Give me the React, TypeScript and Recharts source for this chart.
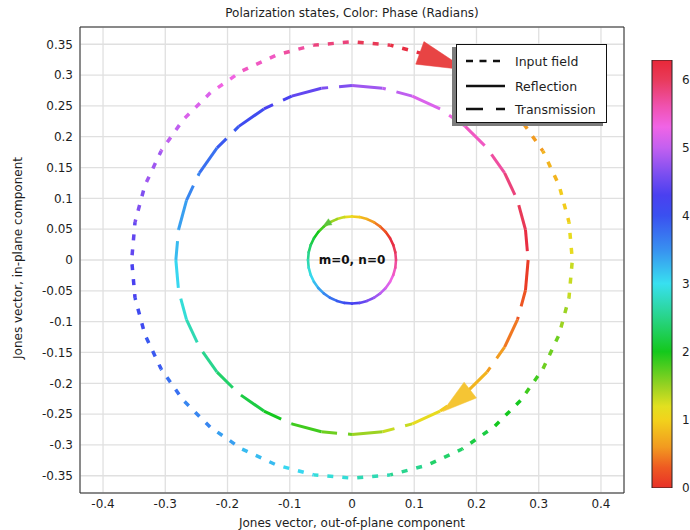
import React from 'react';
import {
  ComposedChart,
  Line,
  XAxis,
  YAxis,
  CartesianGrid,
  Scatter,
  ReferenceDot,
  BarChart,
  Bar,
} from 'recharts';

// ---------------- data ----------------
// phase (radians) at each sampled point along every curve
const phases = [
  0, 0.175, 0.349, 0.524, 0.698, 0.873, 1.047, 1.222, 1.396, 1.571, 1.745, 1.92, 2.094,
  2.269, 2.443, 2.618, 2.793, 2.967, 3.142, 3.316, 3.491, 3.665, 3.84, 4.014, 4.189, 4.363,
  4.538, 4.712, 4.887, 5.061, 5.236, 5.411, 5.585, 5.76, 5.934, 6.109, 6.283,
];

// Input field (dotted)
const inputX = [
  0.1211, 0.177, 0.2276, 0.2712, 0.3066, 0.3327, 0.3486, 0.354, 0.3486, 0.3327, 0.3066,
  0.2712, 0.2276, 0.177, 0.1211, 0.0615, 0, -0.0615, -0.1211, -0.177, -0.2276, -0.2712,
  -0.3066, -0.3327, -0.3486, -0.354, -0.3486, -0.3327, -0.3066, -0.2712, -0.2276, -0.177,
  -0.1211, -0.0615, 0, 0.0615, 0.1211,
];
const inputY = [
  0.3327, 0.3066, 0.2712, 0.2276, 0.177, 0.1211, 0.0615, 0, -0.0615, -0.1211, -0.177,
  -0.2276, -0.2712, -0.3066, -0.3327, -0.3486, -0.354, -0.3486, -0.3327, -0.3066, -0.2712,
  -0.2276, -0.177, -0.1211, -0.0615, 0, 0.0615, 0.1211, 0.177, 0.2276, 0.2712, 0.3066,
  0.3327, 0.3486, 0.354, 0.3486, 0.3327,
];

// Transmission (dashed)
const transX = [
  0.283, 0.2787, 0.2659, 0.2451, 0.2168, 0.1819, 0.1415, 0.0968, 0.0491, 0, -0.0491,
  -0.0968, -0.1415, -0.1819, -0.2168, -0.2451, -0.2659, -0.2787, -0.283, -0.2787, -0.2659,
  -0.2451, -0.2168, -0.1819, -0.1415, -0.0968, -0.0491, 0, 0.0491, 0.0968, 0.1415, 0.1819,
  0.2168, 0.2451, 0.2659, 0.2787, 0.283,
];
const transY = [
  0, -0.0491, -0.0968, -0.1415, -0.1819, -0.2168, -0.2451, -0.2659, -0.2787, -0.283,
  -0.2787, -0.2659, -0.2451, -0.2168, -0.1819, -0.1415, -0.0968, -0.0491, 0, 0.0491,
  0.0968, 0.1415, 0.1819, 0.2168, 0.2451, 0.2659, 0.2787, 0.283, 0.2787, 0.2659, 0.2451,
  0.2168, 0.1819, 0.1415, 0.0968, 0.0491, 0,
];

// Reflection (solid, m=0, n=0)
const reflX = [
  0.0612, 0.0542, 0.0454, 0.0354, 0.0242, 0.0123, 0, -0.0123, -0.0242, -0.0354, -0.0454,
  -0.0542, -0.0612, -0.0664, -0.0696, -0.0707, -0.0696, -0.0664, -0.0612, -0.0542, -0.0454,
  -0.0354, -0.0242, -0.0123, 0, 0.0123, 0.0242, 0.0354, 0.0454, 0.0542, 0.0612, 0.0664,
  0.0696, 0.0707, 0.0696, 0.0664, 0.0612,
];
const reflY = [
  0.0354, 0.0454, 0.0542, 0.0612, 0.0664, 0.0696, 0.0707, 0.0696, 0.0664, 0.0612, 0.0542,
  0.0454, 0.0354, 0.0242, 0.0123, 0, -0.0123, -0.0242, -0.0354, -0.0454, -0.0542, -0.0612,
  -0.0664, -0.0696, -0.0707, -0.0696, -0.0664, -0.0612, -0.0542, -0.0454, -0.0354, -0.0242,
  -0.0123, 0, 0.0123, 0.0242, 0.0354,
];

// arrow heads (base position on each curve)
const arrowX = [0.109, 0.19, -0.035];
const arrowY = [0.336, -0.211, 0.062];

const xTicks = [-0.4, -0.3, -0.2, -0.1, 0, 0.1, 0.2, 0.3, 0.4];
const yTicks = [
  -0.35, -0.3, -0.25, -0.2, -0.15, -0.1, -0.05, 0, 0.05, 0.1, 0.15, 0.2, 0.25, 0.3, 0.35,
];
const cbTicks = [0, 1, 2, 3, 4, 5, 6];
const cbMax = 6.283;
const colorbarData = [{ name: 'phase', v: cbMax }];

const title = 'Polarization states, Color: Phase (Radians)';
const xLabel = 'Jones vector, out-of-plane component';
const yLabel = 'Jones vector, in-plane component';
const centerLabel = 'm=0, n=0';
const legendNames = ['Input field', 'Reflection', 'Transmission'];

// ---------------- styles ----------------
const FONT = "'DejaVu Sans', Verdana, sans-serif";
const TEXT = '#1e1e1e';
const cmap: [number, string][] = [
  [0, '#e83028'],
  [0.3, '#ee5a22'],
  [0.6, '#f29a20'],
  [1.0, '#f2d21c'],
  [1.2, '#e2e020'],
  [1.5, '#98d222'],
  [2.0, '#14c81c'],
  [2.5, '#28d488'],
  [3.0, '#38e0f0'],
  [3.5, '#3890f0'],
  [4.0, '#3a50f0'],
  [4.3, '#4a40f0'],
  [4.6, '#7a4ef0'],
  [5.0, '#c460f0'],
  [5.3, '#f064e6'],
  [5.6, '#f052b0'],
  [6.0, '#e83a5a'],
  [6.283, '#e82838'],
];
const arrowStyles = [
  { angle: 20, len: 50, half: 12, color: '#e84444' },
  { angle: 142, len: 35, half: 10, color: '#f5c534' },
  { angle: 150, len: 8, half: 3.5, color: '#5cc43a' },
];

const hexToRgb = (h: string) => {
  const n = parseInt(h.slice(1), 16);
  return [(n >> 16) & 255, (n >> 8) & 255, n & 255];
};
const colorAt = (v: number) => {
  const t = Math.max(0, Math.min(cbMax, v));
  for (let i = 0; i < cmap.length - 1; i++) {
    const [a, ca] = cmap[i];
    const [b, cb] = cmap[i + 1];
    if (t <= b) {
      const f = (t - a) / (b - a);
      const A = hexToRgb(ca);
      const B = hexToRgb(cb);
      const c = A.map((q, k) => Math.round(q + (B[k] - q) * f));
      return `rgb(${c[0]},${c[1]},${c[2]})`;
    }
  }
  return cmap[cmap.length - 1][1];
};

const PX = 622.4;
const PY = 616.4;
const makeSegments = (xs: number[], ys: number[], period: number) => {
  let acc = 0;
  return xs.slice(0, -1).map((x, i) => {
    const seg = {
      key: i,
      data: [
        { x, y: ys[i] },
        { x: xs[i + 1], y: ys[i + 1] },
      ],
      color: colorAt((phases[i] + phases[i + 1]) / 2),
      offset: period ? acc % period : 0,
    };
    acc += Math.hypot((xs[i + 1] - x) * PX, (ys[i + 1] - ys[i]) * PY);
    return seg;
  });
};

const INPUT_DASH = [6, 9];
const TRANS_DASH = [47, 11];
const inputSegs = makeSegments(inputX, inputY, INPUT_DASH[0] + INPUT_DASH[1]);
const transSegs = makeSegments(transX, transY, TRANS_DASH[0] + TRANS_DASH[1]);
const reflSegs = makeSegments(reflX, reflY, 0);

const makeArrowShape = (s: { angle: number; len: number; half: number; color: string }) =>
  (props: any) => {
    const { cx, cy } = props;
    if (cx == null || cy == null) return <g />;
    const a = (s.angle * Math.PI) / 180;
    const ux = Math.cos(a);
    const uy = Math.sin(a);
    const tip = [cx + s.len * ux, cy + s.len * uy];
    const b1 = [cx - s.half * uy, cy + s.half * ux];
    const b2 = [cx + s.half * uy, cy - s.half * ux];
    return (
      <polygon
        points={`${b1[0]},${b1[1]} ${tip[0]},${tip[1]} ${b2[0]},${b2[1]}`}
        fill={s.color}
        stroke={s.color}
        strokeWidth={0.5}
      />
    );
  };

const axisCommon = { type: 'number' as const, allowDataOverflow: true };

const YLabelContent = (props: any) => {
  const vb = props.viewBox || { x: 0, y: 27, width: 80, height: 466 };
  const cx = vb.x + 18;
  const cy = vb.y + vb.height / 2 - 2;
  return (
    <text
      x={cx}
      y={cy}
      transform={`rotate(-90 ${cx} ${cy})`}
      textAnchor="middle"
      dominantBaseline="central"
      fontSize={12}
      fill={TEXT}
      fontFamily={FONT}
    >
      {yLabel}
    </text>
  );
};

export default function App() {
  return (
    <div
      style={{
        position: 'absolute',
        left: 0,
        top: 0,
        width: 690,
        height: 530,
        background: '#fff',
        fontFamily: FONT,
        overflow: 'hidden',
      }}
    >
      <div
        style={{
          position: 'absolute',
          left: 0,
          top: 5,
          width: 704,
          textAlign: 'center',
          fontSize: 12,
          lineHeight: '16px',
          color: TEXT,
          whiteSpace: 'nowrap',
        }}
      >
        {title}
      </div>

      <ComposedChart
        width={690}
        height={530}
        margin={{ top: 27, right: 66, bottom: 0, left: 0 }}
        style={{ position: 'absolute', left: 0, top: 0 }}
      >
        <CartesianGrid xAxisId="x" yAxisId="y" stroke="#e0e0e0" strokeWidth={1.3} />
        <XAxis
          {...axisCommon}
          xAxisId="x"
          dataKey="x"
          domain={[-0.437, 0.437]}
          ticks={xTicks}
          interval={0}
          axisLine={false}
          tickLine={false}
          tickSize={4}
          tickMargin={2}
          height={37}
          tick={{ fontSize: 12, fill: TEXT }}
          label={{ value: xLabel, position: 'insideBottom', offset: 3, fontSize: 12, fill: TEXT }}
        />
        <XAxis
          {...axisCommon}
          xAxisId="xb"
          orientation="bottom"
          mirror
          domain={[-0.437, 0.437]}
          ticks={xTicks}
          interval={0}
          tick={false}
          tickSize={5}
          stroke="#2a2a2a"
        />
        <XAxis
          {...axisCommon}
          xAxisId="xt"
          orientation="top"
          mirror
          domain={[-0.437, 0.437]}
          ticks={xTicks}
          interval={0}
          tick={false}
          tickSize={5}
          stroke="#2a2a2a"
        />
        <YAxis
          {...axisCommon}
          yAxisId="y"
          dataKey="y"
          domain={[-0.378, 0.378]}
          ticks={yTicks}
          interval={0}
          axisLine={false}
          tickLine={false}
          tickSize={5}
          tickMargin={2}
          width={80}
          tick={{ fontSize: 12, fill: TEXT }}
          label={{ content: YLabelContent }}
        />
        <YAxis
          {...axisCommon}
          yAxisId="yl"
          orientation="left"
          mirror
          domain={[-0.378, 0.378]}
          ticks={yTicks}
          interval={0}
          tick={false}
          tickSize={5}
          stroke="#2a2a2a"
        />
        <YAxis
          {...axisCommon}
          yAxisId="yr"
          orientation="right"
          mirror
          domain={[-0.378, 0.378]}
          ticks={yTicks}
          interval={0}
          tick={false}
          tickSize={5}
          stroke="#2a2a2a"
        />

        {inputSegs.map((s) => (
          <Line
            key={`in-${s.key}`}
            xAxisId="x"
            yAxisId="y"
            data={s.data}
            dataKey="y"
            type="linear"
            stroke={s.color}
            strokeWidth={3.5}
            strokeDasharray={INPUT_DASH.join(' ')}
            strokeDashoffset={s.offset}
            strokeLinecap="butt"
            dot={false}
            activeDot={false}
            isAnimationActive={false}
          />
        ))}
        {transSegs.map((s) => (
          <Line
            key={`tr-${s.key}`}
            xAxisId="x"
            yAxisId="y"
            data={s.data}
            dataKey="y"
            type="linear"
            stroke={s.color}
            strokeWidth={3}
            strokeDasharray={TRANS_DASH.join(' ')}
            strokeDashoffset={s.offset}
            strokeLinecap="butt"
            dot={false}
            activeDot={false}
            isAnimationActive={false}
          />
        ))}
        {reflSegs.map((s) => (
          <Line
            key={`rf-${s.key}`}
            xAxisId="x"
            yAxisId="y"
            data={s.data}
            dataKey="y"
            type="linear"
            stroke={s.color}
            strokeWidth={2.6}
            strokeLinecap="round"
            dot={false}
            activeDot={false}
            isAnimationActive={false}
          />
        ))}

        {arrowX.map((ax, i) => (
          <Scatter
            key={`ar-${i}`}
            xAxisId="x"
            yAxisId="y"
            data={[{ x: ax, y: arrowY[i] }]}
            shape={makeArrowShape(arrowStyles[i])}
            isAnimationActive={false}
          />
        ))}

        <ReferenceDot
          xAxisId="x"
          yAxisId="y"
          x={0}
          y={0}
          r={1}
          fill="none"
          stroke="none"
          label={{ value: centerLabel, position: 'center', fontSize: 12, fontWeight: 'bold', fill: '#111' }}
        />
      </ComposedChart>

      {/* legend */}
      <div
        style={{
          position: 'absolute',
          left: 456,
          top: 44,
          width: 151,
          height: 79,
          boxSizing: 'border-box',
          border: '1px solid #111',
          background: '#fff',
          boxShadow: '-4px 3px 0 0 #7c7c7c',
        }}
      >
        <svg width={149} height={77} style={{ position: 'absolute', left: 0, top: 0 }}>
          {legendNames.map((name, i) => {
            const y = [16, 41, 64][i];
            const dash = i === 0 ? '7 6.5' : i === 2 ? '17 13' : undefined;
            return (
              <g key={name}>
                <line
                  x1={9}
                  x2={48}
                  y1={y}
                  y2={y}
                  stroke="#111"
                  strokeWidth={2.6}
                  strokeDasharray={dash}
                />
                <text
                  x={58}
                  y={y}
                  dominantBaseline="central"
                  fontSize={12.5}
                  fill={TEXT}
                  fontFamily={FONT}
                >
                  {name}
                </text>
              </g>
            );
          })}
        </svg>
      </div>

      {/* colour bar */}
      <BarChart
        width={50}
        height={530}
        data={colorbarData}
        margin={{ top: 60, right: 0, bottom: 42, left: 12 }}
        barCategoryGap={0}
        style={{ position: 'absolute', left: 640, top: 0 }}
      >
        <defs>
          <linearGradient id="cbGrad" x1="0" y1="1" x2="0" y2="0">
            {cmap.map(([v, c]) => (
              <stop key={v} offset={v / cbMax} stopColor={c} />
            ))}
          </linearGradient>
        </defs>
        <XAxis dataKey="name" hide />
        <YAxis
          {...axisCommon}
          yAxisId="cb"
          orientation="right"
          domain={[0, cbMax]}
          ticks={cbTicks}
          interval={0}
          width={18}
          axisLine={false}
          tickLine={false}
          tickSize={4}
          tickMargin={6}
          tick={{ fontSize: 12, fill: TEXT }}
        />
        <YAxis
          {...axisCommon}
          yAxisId="cbl"
          orientation="left"
          mirror
          domain={[0, cbMax]}
          ticks={cbTicks}
          interval={0}
          tick={false}
          axisLine={false}
          tickSize={4}
          stroke="#222"
        />
        <YAxis
          {...axisCommon}
          yAxisId="cbr"
          orientation="right"
          mirror
          domain={[0, cbMax]}
          ticks={cbTicks}
          interval={0}
          tick={false}
          axisLine={false}
          tickSize={4}
          stroke="#222"
        />
        <Bar
          yAxisId="cb"
          dataKey="v"
          fill="url(#cbGrad)"
          stroke="#222"
          strokeWidth={1}
          isAnimationActive={false}
        />
      </BarChart>
    </div>
  );
}
